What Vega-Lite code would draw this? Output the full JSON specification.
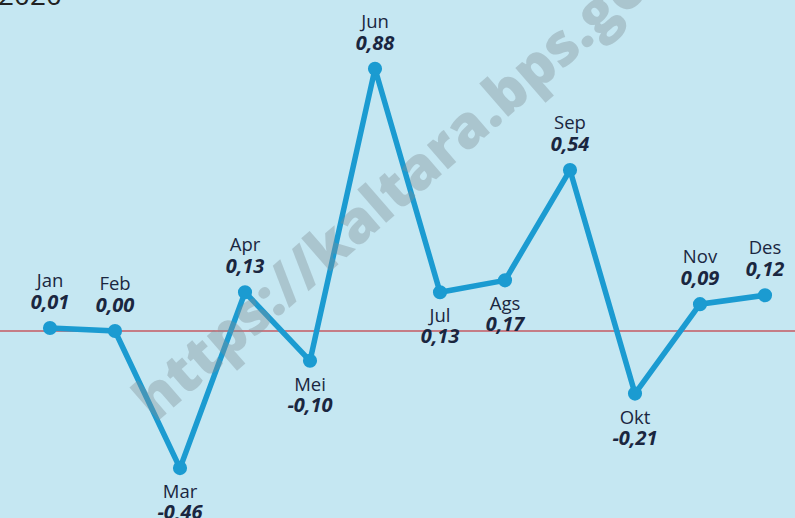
{
  "$schema": "https://vega.github.io/schema/vega-lite/v6.json",
  "width": 795,
  "height": 518,
  "autosize": {"type": "none"},
  "padding": 0,
  "background": "#c5e7f2",
  "config": {
    "view": {"stroke": null},
    "locale": {"number": {"decimal": ",", "thousands": ".", "grouping": [3], "currency": ["", ""], "minus": "-"}}
  },
  "data": {
    "values": [
      {"month": "Jan", "value": 0.01},
      {"month": "Feb", "value": 0.00},
      {"month": "Mar", "value": -0.46},
      {"month": "Apr", "value": 0.13},
      {"month": "Mei", "value": -0.10},
      {"month": "Jun", "value": 0.88},
      {"month": "Jul", "value": 0.13},
      {"month": "Ags", "value": 0.17},
      {"month": "Sep", "value": 0.54},
      {"month": "Okt", "value": -0.21},
      {"month": "Nov", "value": 0.09},
      {"month": "Des", "value": 0.12}
    ]
  },
  "encoding": {
    "x": {"field": "month", "type": "ordinal", "sort": null, "scale": {"type": "point", "range": [50, 765], "padding": 0}, "axis": null},
    "y": {"field": "value", "type": "quantitative", "scale": {"domain": [-0.6275, 1.1107], "nice": false, "zero": false}, "axis": null}
  },
  "layer": [
    {
      "mark": {"type": "rule", "color": "#c47e86", "strokeWidth": 1.6},
      "encoding": {"x": null, "y": {"datum": 0, "type": "quantitative"}}
    },
    {
      "mark": {"type": "line", "color": "#1b9bd1", "strokeWidth": 5.5}
    },
    {
      "mark": {"type": "point", "filled": true, "opacity": 1, "color": "#1b9bd1", "size": 200}
    },
    {
      "transform": [{"filter": {"not": {"field": "month", "oneOf": ["Mar", "Mei", "Jul", "Ags", "Okt"]}}}],
      "mark": {"type": "text", "font": "Open Sans", "fontSize": 18.5, "color": "#1a2640", "baseline": "alphabetic", "dy": -41},
      "encoding": {"text": {"field": "month"}}
    },
    {
      "transform": [{"filter": {"not": {"field": "month", "oneOf": ["Mar", "Mei", "Jul", "Ags", "Okt"]}}}],
      "mark": {"type": "text", "font": "Open Sans", "fontSize": 20, "fontWeight": "bold", "fontStyle": "italic", "color": "#1a2640", "baseline": "alphabetic", "dy": -19},
      "encoding": {"text": {"field": "value", "format": ".2f"}}
    },
    {
      "transform": [{"filter": {"field": "month", "oneOf": ["Mar", "Mei", "Jul", "Ags", "Okt"]}}],
      "mark": {"type": "text", "font": "Open Sans", "fontSize": 18.5, "color": "#1a2640", "baseline": "alphabetic", "dy": 30},
      "encoding": {"text": {"field": "month"}}
    },
    {
      "transform": [{"filter": {"field": "month", "oneOf": ["Mar", "Mei", "Jul", "Ags", "Okt"]}}],
      "mark": {"type": "text", "font": "Open Sans", "fontSize": 20, "fontWeight": "bold", "fontStyle": "italic", "color": "#1a2640", "baseline": "alphabetic", "dy": 51},
      "encoding": {"text": {"field": "value", "format": ".2f"}}
    },
    {
      "transform": [{"filter": {"field": "month", "equal": "Jul"}}],
      "mark": {"type": "text", "font": "Open Sans", "fontSize": 58, "fontWeight": 800, "color": "#7f8f96", "opacity": 0.38, "angle": -41, "align": "center", "baseline": "alphabetic", "dx": -12},
      "encoding": {
        "y": {"datum": 0.52, "type": "quantitative"},
        "text": {"value": "https://kaltara.bps.go.id"}
      }
    },
    {
      "transform": [{"filter": {"field": "month", "equal": "Jan"}}],
      "mark": {"type": "text", "font": "Open Sans", "fontSize": 28, "color": "#222222", "align": "left", "baseline": "alphabetic", "dx": -52, "dy": 5},
      "encoding": {
        "y": {"datum": 1.1107, "type": "quantitative"},
        "text": {"value": "2020"}
      }
    }
  ]
}
